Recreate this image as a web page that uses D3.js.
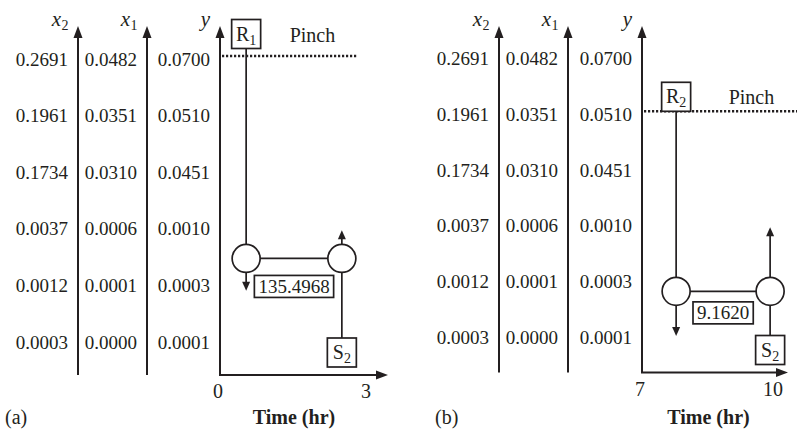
<!DOCTYPE html>
<html><head><meta charset="utf-8">
<script src="https://cdn.jsdelivr.net/npm/d3@7"></script>
<style>
body{margin:0;background:#fff}
svg{display:block}
text{font-family:"Liberation Serif","Times New Roman",Times,serif;fill:#231f20}
</style>
</head><body>
<svg id="chart" width="797" height="429"></svg>
<script>
// ---- data ----
const x2Labels = ["0.2691","0.1961","0.1734","0.0037","0.0012","0.0003"];
const x1Labels = ["0.0482","0.0351","0.0310","0.0006","0.0001","0.0000"];
const yLabels  = ["0.0700","0.0510","0.0451","0.0010","0.0003","0.0001"];
const panelNames = ["(a)","(b)"];
const timeDomains = [[0,3],[7,10]];
const timeTicks = [[0,3],[7,10]];
const pinchRows = [0,1];
const richSubs = ["1","2"];
const leanSubs = ["2","2"];
const richTimes = [0.53, 7.77];
const leanTimes = [2.47, 9.89];
const exchangerRows = [3.55, 4.2];
const richOutletRows = [4.12, 5.0];
const leanOutletRows = [3.05, 3.05];
const exchangerLoads = ["135.4968","9.1620"];

// ---- layout ----
const layout = [
  {axisX:[78,147,220], tRange:[220,368], rowRange:[57.5,340.5], bottom:375, tipX:388,
   rBoxGap:7.5, pinchX2:357, pinchTextDx:29, loadDy:28, labelX:5},
  {axisX:[499,568,642], tRange:[642,775], rowRange:[57,336], bottom:372.5, tipX:788,
   rBoxGap:0, pinchX2:797, pinchTextDx:38, loadDy:21.5, labelX:435}
];
const ink = "#231f20";
const svg = d3.select("#chart");

function arrow(g, x, y, dir, len, hw){
  let p;
  if(dir==="up") p=[[x,y],[x-hw,y+len],[x+hw,y+len]];
  else if(dir==="down") p=[[x,y],[x-hw,y-len],[x+hw,y-len]];
  else p=[[x,y],[x-len,y-hw],[x-len,y+hw]];
  g.append("path").attr("d", d3.line()(p)+"Z").attr("fill", ink).attr("stroke","none");
}
function axisName(g, xEnd, y, main, sub){
  const m = g.append("text").attr("y",y).style("font-size","21px").style("font-style","italic").text(main);
  const mw = m.node().getComputedTextLength();
  let sw = 0, s = null;
  if(sub){
    s = g.append("text").attr("y",y+4).style("font-size","14px").text(sub);
    sw = s.node().getComputedTextLength();
  }
  const x0 = xEnd - mw - sw;
  m.attr("x", x0);
  if(s) s.attr("x", x0 + mw + 0.5);
}
function boxedSub(g, cx, yTop, main, sub){
  const w = 29, h = 29;
  g.append("rect").attr("x",cx-w/2).attr("y",yTop).attr("width",w).attr("height",h)
    .attr("fill","#fff").attr("stroke",ink).attr("stroke-width",1.7);
  const m = g.append("text").attr("y",yTop+21).style("font-size","20px").text(main);
  const s = g.append("text").attr("y",yTop+25).style("font-size","14px").text(sub);
  const mw = m.node().getComputedTextLength(), sw = s.node().getComputedTextLength();
  const x0 = cx - (mw+sw)/2;
  m.attr("x", x0); s.attr("x", x0+mw);
}

panelNames.forEach((name, i) => {
  const L = layout[i];
  const g = svg.append("g");
  const row = d3.scaleLinear().domain([0,5]).range(L.rowRange);
  const t = d3.scaleLinear().domain(timeDomains[i]).range(L.tRange);
  const axisTop = 26;
  const cols = [x2Labels, x1Labels, yLabels];
  const names = [["x","2"],["x","1"],["y",""]];

  cols.forEach((labels, k) => {
    const ax = L.axisX[k];
    g.append("line").attr("x1",ax).attr("x2",ax).attr("y1",axisTop+10).attr("y2",L.bottom)
      .attr("stroke",ink).attr("stroke-width",2);
    arrow(g, ax, axisTop, "up", 12, 4.5);
    g.selectAll(null).data(labels).enter().append("text")
      .attr("x", ax-10).attr("y", (d,j)=>row(j)+8).attr("text-anchor","end")
      .style("font-size","19px").text(d=>d);
    axisName(g, ax-10, 26, names[k][0], names[k][1]);
  });

  const y0 = L.bottom;
  g.append("line").attr("x1",L.axisX[2]-1).attr("x2",L.tipX-10).attr("y1",y0).attr("y2",y0)
    .attr("stroke",ink).attr("stroke-width",2);
  arrow(g, L.tipX, y0, "right", 12, 4.5);
  g.selectAll(null).data(timeTicks[i]).enter().append("text")
    .attr("x", d=>t(d)-2).attr("y", y0+23).attr("text-anchor","middle")
    .style("font-size","20px").text(d=>d);
  g.append("text").attr("x",(t(timeTicks[i][0])+t(timeTicks[i][1]))/2).attr("y",424)
    .attr("text-anchor","middle").style("font-size","20px").style("font-weight","bold")
    .text("Time (hr)");
  g.append("text").attr("x",L.labelX).attr("y",424).style("font-size","20px").text(name);

  const py = row(pinchRows[i]) - 1.5;
  g.append("line").attr("x1",L.axisX[2]+2).attr("x2",L.pinchX2).attr("y1",py).attr("y2",py)
    .attr("stroke",ink).attr("stroke-width",2.6).attr("stroke-dasharray","2.2,1.8");

  const xr = t(richTimes[i]), xl = t(leanTimes[i]);
  const cy = row(exchangerRows[i]), r = 14;
  const rBoxTop = py - L.rBoxGap - 29;
  g.append("line").attr("x1",xr).attr("x2",xr).attr("y1",rBoxTop+29).attr("y2",cy-r)
    .attr("stroke",ink).attr("stroke-width",1.7);
  boxedSub(g, xr, rBoxTop, "R", richSubs[i]);
  g.append("text").attr("x", xr+14.5+L.pinchTextDx).attr("y", rBoxTop+22)
    .style("font-size","20px").text("Pinch");

  const rOut = row(richOutletRows[i]);
  g.append("line").attr("x1",xr).attr("x2",xr).attr("y1",cy+r).attr("y2",rOut-8)
    .attr("stroke",ink).attr("stroke-width",1.7);
  arrow(g, xr, rOut, "down", 9, 4);
  const lOut = row(leanOutletRows[i]);
  g.append("line").attr("x1",xl).attr("x2",xl).attr("y1",cy-r).attr("y2",lOut+8)
    .attr("stroke",ink).attr("stroke-width",1.7);
  arrow(g, xl, lOut, "up", 9, 4);
  const sTop = y0 - 8 - 29;
  g.append("line").attr("x1",xl).attr("x2",xl).attr("y1",sTop).attr("y2",cy+r)
    .attr("stroke",ink).attr("stroke-width",1.7);
  boxedSub(g, xl, sTop, "S", leanSubs[i]);
  g.append("line").attr("x1",xr+r).attr("x2",xl-r).attr("y1",cy).attr("y2",cy)
    .attr("stroke",ink).attr("stroke-width",1.7);
  [xr, xl].forEach(cx => g.append("circle").attr("cx",cx).attr("cy",cy).attr("r",r)
    .attr("fill","#fff").attr("stroke",ink).attr("stroke-width",1.7));

  const lx = (xr+xl)/2, ly = cy + L.loadDy;
  const rect = g.append("rect");
  const lt = g.append("text").attr("x",lx).attr("y",ly+6.5).attr("text-anchor","middle")
    .style("font-size","19px").text(exchangerLoads[i]);
  const tw = lt.node().getComputedTextLength();
  rect.attr("x",lx-tw/2-4).attr("y",ly-11).attr("width",tw+8).attr("height",22)
    .attr("fill","#fff").attr("stroke",ink).attr("stroke-width",1.7);
});
</script>
</body></html>
